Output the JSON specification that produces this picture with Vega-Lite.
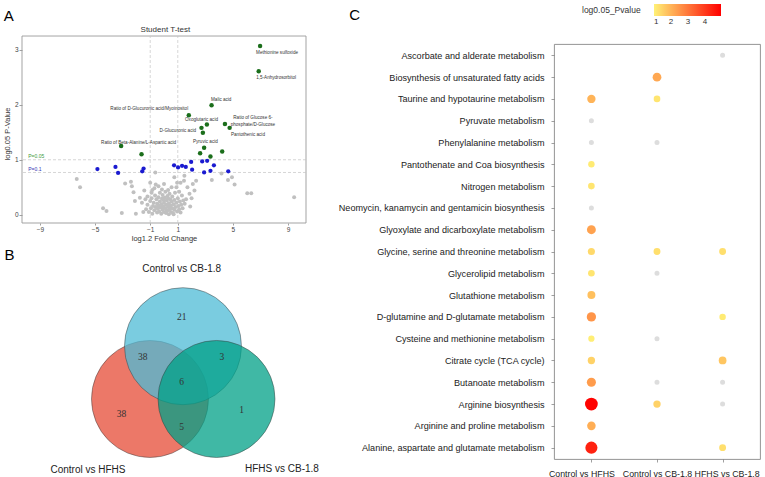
{
"$schema":"https://vega.github.io/schema/vega-lite/v6.json",
"background":"white",
"padding":{"left":3,"top":3,"right":0,"bottom":0},
"config":{
 "font":"Liberation Sans",
 "view":{"stroke":"#888","strokeWidth":0.9},
 "axis":{"grid":false,"domain":false,"tickColor":"#777","tickWidth":0.7,"labelColor":"#444","titleColor":"#333","titleFontWeight":"normal","labelFont":"Liberation Sans","titleFont":"Liberation Sans"},
 "title":{"font":"Liberation Sans"},
 "legend":{"labelFont":"Liberation Sans","titleFont":"Liberation Sans"}
},
"datasets":{
 "vlines":[{"x":-1},{"x":1}],
 "hlines":[{"y":1},{"y":0.7686}],
 "frameA":[{"x1":-10.3,"x2":10.3,"y1":-0.15,"y2":3.25}],
 "volcano":[
  {"x":-6.33,"y":0.65,"g":"ns"},{"x":-6.09,"y":0.5,"g":"ns"},{"x":-4.42,"y":0.12,"g":"ns"},{"x":-4.17,"y":0.07,"g":"ns"},{"x":-3.06,"y":0.03,"g":"ns"},{"x":-2.82,"y":0.57,"g":"ns"},{"x":-2.4,"y":0.6,"g":"ns"},{"x":-2.33,"y":0.52,"g":"ns"},{"x":-2.21,"y":0.41,"g":"ns"},{"x":-2.11,"y":0.25,"g":"ns"},{"x":-2.04,"y":0.02,"g":"ns"},{"x":-1.75,"y":0.31,"g":"ns"},{"x":-1.43,"y":0.44,"g":"ns"},{"x":-1.0,"y":0.58,"g":"ns"},{"x":-0.63,"y":0.77,"g":"ns"},{"x":0.75,"y":0.68,"g":"ns"},{"x":1.48,"y":0.71,"g":"ns"},{"x":1.45,"y":0.62,"g":"ns"},{"x":1.2,"y":0.58,"g":"ns"},{"x":2.09,"y":0.56,"g":"ns"},{"x":2.33,"y":0.62,"g":"ns"},{"x":2.21,"y":0.44,"g":"ns"},{"x":1.7,"y":0.5,"g":"ns"},{"x":1.85,"y":0.38,"g":"ns"},{"x":2.0,"y":0.3,"g":"ns"},{"x":3.47,"y":0.63,"g":"ns"},{"x":4.17,"y":0.75,"g":"ns"},{"x":4.64,"y":0.63,"g":"ns"},{"x":4.93,"y":0.68,"g":"ns"},{"x":5.12,"y":0.55,"g":"ns"},{"x":6.04,"y":0.39,"g":"ns"},{"x":6.33,"y":0.39,"g":"ns"},{"x":9.44,"y":0.32,"g":"ns"},{"x":-1.6,"y":0.22,"g":"ns"},{"x":-1.2,"y":0.33,"g":"ns"},{"x":-0.9,"y":0.4,"g":"ns"},{"x":-0.7,"y":0.48,"g":"ns"},{"x":-0.4,"y":0.52,"g":"ns"},{"x":0.0,"y":0.56,"g":"ns"},{"x":0.3,"y":0.45,"g":"ns"},{"x":0.9,"y":0.5,"g":"ns"},{"x":1.1,"y":0.42,"g":"ns"},{"x":1.3,"y":0.35,"g":"ns"},{"x":1.6,"y":0.28,"g":"ns"},{"x":1.5,"y":0.2,"g":"ns"},{"x":1.9,"y":0.15,"g":"ns"},
  {"x":-1.3,"y":0.1,"g":"ns"},{"x":-1.2,"y":0.18,"g":"ns"},{"x":-1.1,"y":0.05,"g":"ns"},{"x":-1.0,"y":0.25,"g":"ns"},{"x":-0.95,"y":0.12,"g":"ns"},{"x":-0.9,"y":0.3,"g":"ns"},{"x":-0.85,"y":0.02,"g":"ns"},{"x":-0.8,"y":0.16,"g":"ns"},{"x":-0.75,"y":0.22,"g":"ns"},{"x":-0.7,"y":0.08,"g":"ns"},{"x":-0.65,"y":0.35,"g":"ns"},{"x":-0.6,"y":0.14,"g":"ns"},{"x":-0.55,"y":0.28,"g":"ns"},{"x":-0.5,"y":0.04,"g":"ns"},{"x":-0.5,"y":0.2,"g":"ns"},{"x":-0.45,"y":0.11,"g":"ns"},{"x":-0.4,"y":0.32,"g":"ns"},{"x":-0.4,"y":0.17,"g":"ns"},{"x":-0.35,"y":0.06,"g":"ns"},{"x":-0.3,"y":0.24,"g":"ns"},{"x":-0.3,"y":0.4,"g":"ns"},{"x":-0.25,"y":0.13,"g":"ns"},{"x":-0.2,"y":0.02,"g":"ns"},{"x":-0.2,"y":0.19,"g":"ns"},{"x":-0.15,"y":0.29,"g":"ns"},{"x":-0.1,"y":0.09,"g":"ns"},{"x":-0.1,"y":0.36,"g":"ns"},{"x":-0.05,"y":0.15,"g":"ns"},{"x":0.0,"y":0.05,"g":"ns"},{"x":0.0,"y":0.22,"g":"ns"},{"x":0.05,"y":0.31,"g":"ns"},{"x":0.1,"y":0.12,"g":"ns"},{"x":0.1,"y":0.42,"g":"ns"},{"x":0.15,"y":0.03,"g":"ns"},{"x":0.15,"y":0.18,"g":"ns"},{"x":0.2,"y":0.26,"g":"ns"},{"x":0.25,"y":0.08,"g":"ns"},{"x":0.25,"y":0.34,"g":"ns"},{"x":0.3,"y":0.15,"g":"ns"},{"x":0.35,"y":0.21,"g":"ns"},{"x":0.35,"y":0.01,"g":"ns"},{"x":0.4,"y":0.1,"g":"ns"},{"x":0.4,"y":0.38,"g":"ns"},{"x":0.45,"y":0.28,"g":"ns"},{"x":0.5,"y":0.05,"g":"ns"},{"x":0.5,"y":0.17,"g":"ns"},{"x":0.55,"y":0.24,"g":"ns"},{"x":0.6,"y":0.12,"g":"ns"},{"x":0.6,"y":0.33,"g":"ns"},{"x":0.65,"y":0.03,"g":"ns"},{"x":0.7,"y":0.19,"g":"ns"},{"x":0.75,"y":0.09,"g":"ns"},{"x":0.75,"y":0.27,"g":"ns"},{"x":0.8,"y":0.4,"g":"ns"},{"x":0.85,"y":0.14,"g":"ns"},{"x":0.9,"y":0.22,"g":"ns"},{"x":0.95,"y":0.06,"g":"ns"},{"x":1.0,"y":0.3,"g":"ns"},{"x":1.05,"y":0.16,"g":"ns"},{"x":1.1,"y":0.1,"g":"ns"},{"x":1.15,"y":0.24,"g":"ns"},{"x":1.2,"y":0.04,"g":"ns"},{"x":1.25,"y":0.18,"g":"ns"},{"x":1.35,"y":0.12,"g":"ns"},{"x":1.4,"y":0.26,"g":"ns"},{"x":-0.85,"y":0.45,"g":"ns"},{"x":-0.6,"y":0.55,"g":"ns"},{"x":-0.15,"y":0.46,"g":"ns"},{"x":0.55,"y":0.5,"g":"ns"},{"x":0.95,"y":0.58,"g":"ns"},{"x":-1.35,"y":0.28,"g":"ns"},{"x":-1.5,"y":0.05,"g":"ns"},{"x":0.2,"y":0.07,"g":"ns"},{"x":-0.05,"y":0.27,"g":"ns"},{"x":0.45,"y":0.13,"g":"ns"},{"x":-0.35,"y":0.14,"g":"ns"},{"x":0.7,"y":0.01,"g":"ns"},{"x":0.3,"y":0.3,"g":"ns"},
  {"x":-4.83,"y":0.83,"g":"p10"},{"x":-3.52,"y":0.87,"g":"p10"},{"x":-3.33,"y":0.76,"g":"p10"},{"x":-1.48,"y":0.84,"g":"p10"},{"x":-1.58,"y":0.79,"g":"p10"},{"x":0.73,"y":0.9,"g":"p10"},{"x":1.02,"y":0.86,"g":"p10"},{"x":1.31,"y":0.89,"g":"p10"},{"x":1.58,"y":0.87,"g":"p10"},{"x":1.97,"y":0.96,"g":"p10"},{"x":2.04,"y":0.82,"g":"p10"},{"x":2.77,"y":0.97,"g":"p10"},{"x":3.13,"y":0.98,"g":"p10"},{"x":2.91,"y":0.77,"g":"p10"},{"x":3.37,"y":0.8,"g":"p10"},{"x":3.62,"y":0.9,"g":"p10"},{"x":4.66,"y":0.79,"g":"p10"},
  {"x":6.97,"y":3.07,"g":"p05"},{"x":6.87,"y":2.61,"g":"p05"},{"x":3.45,"y":1.99,"g":"p05"},{"x":1.8,"y":1.81,"g":"p05"},{"x":3.11,"y":1.64,"g":"p05"},{"x":4.42,"y":1.65,"g":"p05"},{"x":4.76,"y":1.58,"g":"p05"},{"x":2.72,"y":1.58,"g":"p05"},{"x":2.82,"y":1.49,"g":"p05"},{"x":2.91,"y":1.22,"g":"p05"},{"x":2.62,"y":1.12,"g":"p05"},{"x":3.37,"y":1.06,"g":"p05"},{"x":4.22,"y":1.15,"g":"p05"},{"x":-3.11,"y":1.25,"g":"p05"},{"x":-1.63,"y":1.1,"g":"p05"}
 ],
 "vlabels":[
  {"label":"Methionine sulfoxide","lx":8.2,"ly":2.95},
  {"label":"1,5-Anhydrosorbitol","lx":8.13,"ly":2.49},
  {"label":"Malic acid","lx":4.15,"ly":2.09},
  {"label":"Ratio of D-Glucuronic acid/Myoinositol","lx":-1.07,"ly":1.93},
  {"label":"Oxoglutaric acid","lx":2.72,"ly":1.73},
  {"label":"Ratio of Glucose 6-\nphosphate/D-Glucose","lx":6.45,"ly":1.76},
  {"label":"Pantothenic acid","lx":6.09,"ly":1.45},
  {"label":"D-Glucuronic acid","lx":1.0,"ly":1.53},
  {"label":"Pyruvic acid","lx":3.0,"ly":1.33},
  {"label":"Ratio of Beta-Alanine/L-Aspartic acid","lx":-1.84,"ly":1.3}
 ],
 "plabels":[{"label":"P=0.05","x":-9.85,"y":1.06},{"label":"P=0.1","x":-9.85,"y":0.84}],
 "vennsets":[
  {"set":"Control vs HFHS","cx":-0.5,"cy":0},
  {"set":"Control vs CB-1.8","cx":0,"cy":0.8},
  {"set":"HFHS vs CB-1.8","cx":0.508,"cy":0}
 ],
 "venncounts":[
  {"n":"21","x":-0.02,"y":1.25},{"n":"38","x":-0.61,"y":0.64},{"n":"3","x":0.59,"y":0.63},{"n":"6","x":-0.02,"y":0.26},{"n":"38","x":-0.93,"y":-0.23},{"n":"5","x":-0.02,"y":-0.43},{"n":"1","x":0.89,"y":-0.17}
 ],
 "vennlabels":[
  {"label":"Control vs CB-1.8","x":-0.02,"y":1.97},
  {"label":"Control vs HFHS","x":-1.44,"y":-1.08},
  {"label":"HFHS vs CB-1.8","x":1.5,"y":-1.06}
 ],
 "pathways":[
  {"pathway":"Ascorbate and alderate metabolism","comparison":"HFHS vs CB-1.8","p":0.6},
  {"pathway":"Biosynthesis of unsaturated fatty acids","comparison":"Control vs CB-1.8","p":2.2},
  {"pathway":"Taurine and hypotaurine metabolism","comparison":"Control vs HFHS","p":2.0},
  {"pathway":"Taurine and hypotaurine metabolism","comparison":"Control vs CB-1.8","p":1.2},
  {"pathway":"Pyruvate metabolism","comparison":"Control vs HFHS","p":0.6},
  {"pathway":"Phenylalanine metabolism","comparison":"Control vs HFHS","p":0.6},
  {"pathway":"Phenylalanine metabolism","comparison":"Control vs CB-1.8","p":0.6},
  {"pathway":"Pantothenate and Coa biosynthesis","comparison":"Control vs HFHS","p":1.1},
  {"pathway":"Nitrogen metabolism","comparison":"Control vs HFHS","p":1.2},
  {"pathway":"Neomycin, kanamycin and gentamicin biosynthesis","comparison":"Control vs HFHS","p":0.6},
  {"pathway":"Glyoxylate and dicarboxylate metabolism","comparison":"Control vs HFHS","p":2.3},
  {"pathway":"Glycine, serine and threonine metabolism","comparison":"Control vs HFHS","p":1.4},
  {"pathway":"Glycine, serine and threonine metabolism","comparison":"Control vs CB-1.8","p":1.3},
  {"pathway":"Glycine, serine and threonine metabolism","comparison":"HFHS vs CB-1.8","p":1.3},
  {"pathway":"Glycerolipid metabolism","comparison":"Control vs HFHS","p":1.2},
  {"pathway":"Glycerolipid metabolism","comparison":"Control vs CB-1.8","p":0.6},
  {"pathway":"Glutathione metabolism","comparison":"Control vs HFHS","p":1.8},
  {"pathway":"D-glutamine and D-glutamate metabolism","comparison":"Control vs HFHS","p":2.5},
  {"pathway":"D-glutamine and D-glutamate metabolism","comparison":"HFHS vs CB-1.8","p":1.1},
  {"pathway":"Cysteine and methionine metabolism","comparison":"Control vs HFHS","p":1.05},
  {"pathway":"Cysteine and methionine metabolism","comparison":"Control vs CB-1.8","p":0.6},
  {"pathway":"Citrate cycle (TCA cycle)","comparison":"Control vs HFHS","p":1.5},
  {"pathway":"Citrate cycle (TCA cycle)","comparison":"HFHS vs CB-1.8","p":1.7},
  {"pathway":"Butanoate metabolism","comparison":"Control vs HFHS","p":2.4},
  {"pathway":"Butanoate metabolism","comparison":"Control vs CB-1.8","p":0.6},
  {"pathway":"Butanoate metabolism","comparison":"HFHS vs CB-1.8","p":0.6},
  {"pathway":"Arginine biosynthesis","comparison":"Control vs HFHS","p":4.9},
  {"pathway":"Arginine biosynthesis","comparison":"Control vs CB-1.8","p":1.5},
  {"pathway":"Arginine biosynthesis","comparison":"HFHS vs CB-1.8","p":0.6},
  {"pathway":"Arginine and proline metabolism","comparison":"Control vs HFHS","p":2.1},
  {"pathway":"Alanine, aspartate and glutamate metabolism","comparison":"Control vs HFHS","p":4.4},
  {"pathway":"Alanine, aspartate and glutamate metabolism","comparison":"HFHS vs CB-1.8","p":1.3}
 ]
},
"concat":[
 {"vconcat":[
  {
   "width":284,"height":179,
   "view":{"stroke":null},
   "resolve":{"scale":{"color":"independent","size":"independent"}},
   "layer":[
    {"data":{"name":"frameA"},"mark":{"type":"rect","fillOpacity":0,"stroke":"#999","strokeWidth":0.9},
     "encoding":{
      "x":{"field":"x1","type":"quantitative","scale":{"domain":[-10.3,10.3],"nice":false,"zero":false},
       "axis":{"values":[-9,-7,-5,-3,-1,0,1,3,5,7,9],"format":"d","title":"log1.2 Fold Change","labelFontSize":6.5,"titleFontSize":7.5,"tickSize":2,"labelPadding":1,"titlePadding":2}},
      "x2":{"field":"x2"},
      "y":{"field":"y1","type":"quantitative","scale":{"domain":[-0.15,3.105],"nice":false,"zero":false},
       "axis":{"values":[0,1,2,3],"format":"d","title":"log0.05 P-Value","labelFontSize":6.5,"titleFontSize":7.5,"tickSize":3,"labelPadding":1,"titlePadding":3}},
      "y2":{"field":"y2"}}},
    {"data":{"name":"vlines"},"mark":{"type":"rule","color":"#c4c4c4","strokeDash":[3,2],"strokeWidth":0.7},
     "encoding":{"x":{"field":"x","type":"quantitative","scale":{"domain":[-10.3,10.3],"nice":false,"zero":false}},
      "y":{"datum":-0.15,"type":"quantitative","scale":{"domain":[-0.15,3.105],"nice":false,"zero":false}},
      "y2":{"datum":3.25}}},
    {"data":{"name":"hlines"},"mark":{"type":"rule","color":"#c4c4c4","strokeDash":[3,2],"strokeWidth":0.7},
     "encoding":{"y":{"field":"y","type":"quantitative","scale":{"domain":[-0.15,3.105],"nice":false,"zero":false}}}},
    {"data":{"name":"volcano"},"mark":{"type":"circle","opacity":1},
     "encoding":{
      "x":{"field":"x","type":"quantitative","scale":{"domain":[-10.3,10.3],"nice":false,"zero":false}},
      "y":{"field":"y","type":"quantitative","scale":{"domain":[-0.15,3.105],"nice":false,"zero":false}},
      "color":{"field":"g","type":"nominal","scale":{"domain":["ns","p10","p05"],"range":["#C0C0C0","#1A1AD0","#1B6E1B"]},"legend":null},
      "size":{"field":"g","type":"ordinal","scale":{"domain":["ns","p10","p05"],"range":[16,20,13]},"legend":null}}},
    {"data":{"name":"vlabels"},"mark":{"type":"text","fontSize":4.6,"color":"#333","lineBreak":"\n","align":"center","baseline":"middle"},
     "encoding":{
      "x":{"field":"lx","type":"quantitative","scale":{"domain":[-10.3,10.3],"nice":false,"zero":false}},
      "y":{"field":"ly","type":"quantitative","scale":{"domain":[-0.15,3.105],"nice":false,"zero":false}},
      "text":{"field":"label"}}},
    {"data":{"name":"plabels"},"mark":{"type":"text","fontSize":5,"align":"left","baseline":"middle"},
     "encoding":{
      "x":{"field":"x","type":"quantitative","scale":{"domain":[-10.3,10.3],"nice":false,"zero":false}},
      "y":{"field":"y","type":"quantitative","scale":{"domain":[-0.15,3.105],"nice":false,"zero":false}},
      "text":{"field":"label"},
      "color":{"field":"label","type":"nominal","scale":{"domain":["P=0.05","P=0.1"],"range":["#3C9A3C","#3434B4"]},"legend":null}}},
    {"data":{"values":[{"t":"Student T-test","x":0.1,"y":3.36}]},"mark":{"type":"text","fontSize":8,"color":"#333","align":"center","baseline":"middle"},
     "encoding":{
      "x":{"field":"x","type":"quantitative","scale":{"domain":[-10.3,10.3],"nice":false,"zero":false}},
      "y":{"field":"y","type":"quantitative","scale":{"domain":[-0.15,3.105],"nice":false,"zero":false}},
      "text":{"field":"t"}}},
    {"data":{"values":[{"t":"A","x":-11.27,"y":3.62}]},"mark":{"type":"text","fontSize":15,"color":"#000","align":"center","baseline":"middle"},
     "encoding":{
      "x":{"field":"x","type":"quantitative","scale":{"domain":[-10.3,10.3],"nice":false,"zero":false}},
      "y":{"field":"y","type":"quantitative","scale":{"domain":[-0.15,3.105],"nice":false,"zero":false}},
      "text":{"field":"t"}}}
   ]
  },
  {
   "width":284,"height":234,
   "view":{"stroke":null},
   "layer":[
    {"data":{"name":"vennsets"},"mark":{"type":"circle","size":13685,"fillOpacity":0.75,"stroke":"#3a3a3a","strokeWidth":0.6,"strokeOpacity":0.8},
     "encoding":{
      "x":{"field":"cx","type":"quantitative","scale":{"domain":[-2.439,1.864],"nice":false,"zero":false},"axis":null},
      "y":{"field":"cy","type":"quantitative","scale":{"domain":[-1.167,2.379],"nice":false,"zero":false},"axis":null},
      "color":{"field":"set","type":"nominal","scale":{"domain":["Control vs HFHS","Control vs CB-1.8","HFHS vs CB-1.8"],"range":["#E64B35","#4DBBD5","#00A087"]},"legend":null}}},
    {"data":{"name":"venncounts"},"mark":{"type":"text","font":"Liberation Serif","fontSize":9.5,"color":"#333","align":"center","baseline":"middle"},
     "encoding":{
      "x":{"field":"x","type":"quantitative","scale":{"domain":[-2.439,1.864],"nice":false,"zero":false},"axis":null},
      "y":{"field":"y","type":"quantitative","scale":{"domain":[-1.167,2.379],"nice":false,"zero":false},"axis":null},
      "text":{"field":"n"}}},
    {"data":{"name":"vennlabels"},"mark":{"type":"text","fontSize":10,"color":"#222","align":"center","baseline":"middle"},
     "encoding":{
      "x":{"field":"x","type":"quantitative","scale":{"domain":[-2.439,1.864],"nice":false,"zero":false},"axis":null},
      "y":{"field":"y","type":"quantitative","scale":{"domain":[-1.167,2.379],"nice":false,"zero":false},"axis":null},
      "text":{"field":"label"}}},
    {"data":{"values":[{"t":"B","x":-2.63,"y":2.18}]},"mark":{"type":"text","fontSize":15,"color":"#000","align":"center","baseline":"middle"},
     "encoding":{
      "x":{"field":"x","type":"quantitative","scale":{"domain":[-2.439,1.864],"nice":false,"zero":false},"axis":null},
      "y":{"field":"y","type":"quantitative","scale":{"domain":[-1.167,2.379],"nice":false,"zero":false},"axis":null},
      "text":{"field":"t"}}}
   ]
  }
 ],"spacing":0},
 {
  "width":206,"height":415,
  "title":{"text":"C","anchor":"start","frame":"bounds","fontSize":15,"fontWeight":"normal","dx":11,"offset":-19,"color":"#000"},
  "data":{"name":"pathways"},
  "mark":{"type":"circle","opacity":1},
  "encoding":{
   "x":{"field":"comparison","type":"nominal","sort":["Control vs HFHS","Control vs CB-1.8","HFHS vs CB-1.8"],"scale":{"type":"point","padding":0.57},
    "axis":{"title":null,"labelAngle":0,"labelFontSize":8.8,"labelColor":"#222","tickSize":3,"labelPadding":7,
     "labelOffset":{"condition":[{"test":"datum.label === 'Control vs HFHS'","value":-10},{"test":"datum.label === 'HFHS vs CB-1.8'","value":4}],"value":0}}},
   "y":{"field":"pathway","type":"nominal","sort":null,"scale":{"type":"point","padding":0.52},
    "axis":{"title":null,"labelFontSize":9.1,"labelColor":"#222","tickSize":3,"labelPadding":7,"labelLimit":0}},
   "color":{"condition":{"test":"datum.p < 1","value":"#DDDDDD"},"field":"p","type":"quantitative",
    "scale":{"domain":[1,4.95],"range":["#FFF176","#FF0000"],"interpolate":"rgb"},
    "legend":{"title":"log0.05_Pvalue","orient":"none","legendX":28,"legendY":-40,"direction":"horizontal","titleOrient":"left","titlePadding":13,"gradientLength":67,"gradientThickness":12,"values":[1,2,3,4],"labelFontSize":8,"titleFontSize":8.5,"titleFontWeight":"normal","titleColor":"#333","labelColor":"#333"}},
   "size":{"field":"p","type":"quantitative","scale":{"domain":[0.5,4.9],"range":[22,162]},"legend":null}
  }
 }
],
"columns":2,
"align":"none",
"spacing":18
}
